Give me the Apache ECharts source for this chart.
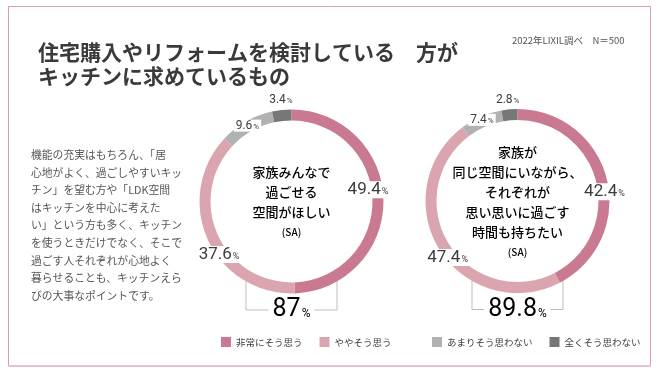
<!DOCTYPE html>
<html lang="ja">
<head>
<meta charset="utf-8">
<title>キッチンに求めているもの</title>
<script src="https://cdn.jsdelivr.net/npm/echarts@6/dist/echarts.min.js"></script>
<style>
  html, body { margin: 0; padding: 0; background: #fff; }
  #chart { width: 667px; height: 377px; }
</style>
</head>
<body>
<div id="chart"></div>
<script>
// answer categories, same order for both donuts (clockwise from 12 o'clock)
const answers = ['非常にそう思う', 'ややそう思う', 'あまりそう思わない', '全くそう思わない']
const togetherValues = [49.4, 37.6, 9.6, 3.4]
const ownTimeValues = [42.4, 47.4, 7.4, 2.8]

const togetherCaption = ['家族みんなで', '過ごせる', '空間がほしい']
const ownTimeCaption = ['家族が', '同じ空間にいながら、', 'それぞれが', '思い思いに過ごす', '時間も持ちたい']

const titleText = '住宅購入やリフォームを検討している　方が\nキッチンに求めているもの'
const sourceText = '2022年LIXIL調べ　N＝500'
const bodyText = [
  '機能の充実はもちろん、「居',
  '心地がよく、過ごしやすいキッ',
  'チン」を望む方や「LDK空間',
  'はキッチンを中心に考えた',
  'い」という方も多く、キッチン',
  'を使うときだけでなく、そこで',
  '過ごす人それぞれが心地よく',
  '暮らせることも、キッチンえら',
  'びの大事なポイントです。'
]

const palette = ['#c97a90', '#dba5b0', '#b1b1b1', '#777777']
const jp = '"Noto Sans CJK JP", "Noto Sans", sans-serif'
const num = 'Roboto, "Noto Sans", sans-serif'
const textColor = '#3c3c3c'

// label nudges so the percentages sit where the print layout has them
const nudgeTogether = [[-13, -10], [9, 16], [0, 2], [-1, -13]]
const nudgeOwnTime = [[0, 12], [6, 9], [0, 1], [-2, -12]]

const centerA = [291.5, 201.5]
const centerB = [517.5, 201]

function donut(name, values, center, nudge) {
  return {
    type: 'pie',
    name: name,
    center: center,
    radius: [81, 92],
    startAngle: 90,
    clockwise: true,
    silent: true,
    animation: false,
    emphasis: { disabled: true },
    labelLine: { show: false },
    label: {
      show: true,
      position: 'inside',
      backgroundColor: '#fff',
      padding: [0, 2],
      formatter: p => p.value >= 20
        ? `{big|${p.value.toFixed(1)}}{pb|%}`
        : `{small|${p.value.toFixed(1)}}{ps|%}`,
      rich: {
        big: { fontFamily: num, fontSize: 17, color: textColor, fontWeight: 400 },
        pb: { fontFamily: num, fontSize: 9, color: textColor, padding: [4, 0, 0, 1] },
        small: { fontFamily: num, fontSize: 12, color: textColor, fontWeight: 400 },
        ps: { fontFamily: num, fontSize: 8, color: textColor, padding: [2, 0, 0, 1] }
      }
    },
    data: values.map((v, i) => ({
      name: answers[i],
      value: v,
      itemStyle: { color: palette[i] },
      label: { offset: nudge[i] }
    }))
  }
}

function caption(lines, center) {
  const rich = lines.map(l => `{a|${l}}`).join('\n') + '\n{s|(SA)}'
  return {
    type: 'text',
    x: center[0],
    y: center[1] + 1,
    style: {
      text: rich,
      align: 'center',
      verticalAlign: 'middle',
      rich: {
        a: { fontFamily: jp, fontSize: 13, fontWeight: 500, color: textColor, lineHeight: 20, align: 'center' },
        s: { fontFamily: jp, fontSize: 10, fontWeight: 500, color: textColor, lineHeight: 20, align: 'center' }
      }
    }
  }
}

// bracket under each donut showing the "agree" total
function bracket(values, center) {
  const total = parseFloat((values[0] + values[1]).toFixed(1)).toString()
  const half = 45.5
  const top = center[1] + 73.5
  const bottom = center[1] + 108.5
  return [
    {
      type: 'polyline',
      shape: { points: [[center[0] - half, top], [center[0] - half, bottom], [center[0] + half, bottom], [center[0] + half, top]] },
      style: { stroke: '#bdbdbd', lineWidth: 1, fill: null }
    },
    {
      type: 'text',
      x: center[0],
      y: bottom,
      z: 10,
      style: {
        text: `{n|${total}}{p|%}`,
        align: 'center',
        verticalAlign: 'middle',
        backgroundColor: '#fff',
        padding: [0, 4],
        rich: {
          n: { fontFamily: num, fontSize: 25, fontWeight: 400, color: '#333' },
          p: { fontFamily: num, fontSize: 12, color: '#333', padding: [8, 0, 0, 1] }
        }
      }
    }
  ]
}

const chart = echarts.init(document.getElementById('chart'), null, { renderer: 'canvas' })

const legendBase = {
  top: 332,
  icon: 'rect',
  itemWidth: 10,
  itemHeight: 10,
  itemGap: 17,
  selectedMode: false,
  textStyle: { fontFamily: jp, fontSize: 9.5, color: textColor }
}

chart.setOption({
  backgroundColor: '#fff',
  title: {
    text: titleText,
    left: 33,
    top: 35,
    textStyle: { fontFamily: jp, fontSize: 21, fontWeight: 'bold', color: '#3a3a3a', lineHeight: 24 }
  },
  legend: [
    Object.assign({}, legendBase, { data: answers.slice(0, 2), left: 216 }),
    Object.assign({}, legendBase, { data: answers.slice(2), left: 427 })
  ],
  graphic: [
    {
      type: 'rect',
      shape: { x: 8.5, y: 6.5, width: 642, height: 359 },
      style: { fill: null, stroke: '#d59cac', lineWidth: 1 },
      silent: true
    },
    {
      type: 'line',
      shape: { x1: 8, y1: 366, x2: 651, y2: 366 },
      style: { stroke: '#e8c2cb', lineWidth: 2 },
      silent: true
    },
    {
      type: 'text',
      x: 512,
      y: 40,
      style: { text: sourceText, fontFamily: jp, fontSize: 9.5, fill: '#555', verticalAlign: 'middle' }
    },
    {
      type: 'text',
      x: 31,
      y: 146,
      style: {
        text: bodyText.join('\n'),
        fontFamily: jp,
        fontSize: 10.8,
        lineHeight: 17.6,
        fill: '#555',
        verticalAlign: 'top'
      }
    },
    caption(togetherCaption, centerA),
    caption(ownTimeCaption, centerB),
    ...bracket(togetherValues, centerA),
    ...bracket(ownTimeValues, centerB)
  ],
  series: [
    donut('家族みんなで過ごせる空間がほしい', togetherValues, centerA, nudgeTogether),
    donut('同じ空間にいながら思い思いに過ごす時間も持ちたい', ownTimeValues, centerB, nudgeOwnTime)
  ]
})

window.addEventListener('resize', () => chart.resize())
</script>
</body>
</html>
